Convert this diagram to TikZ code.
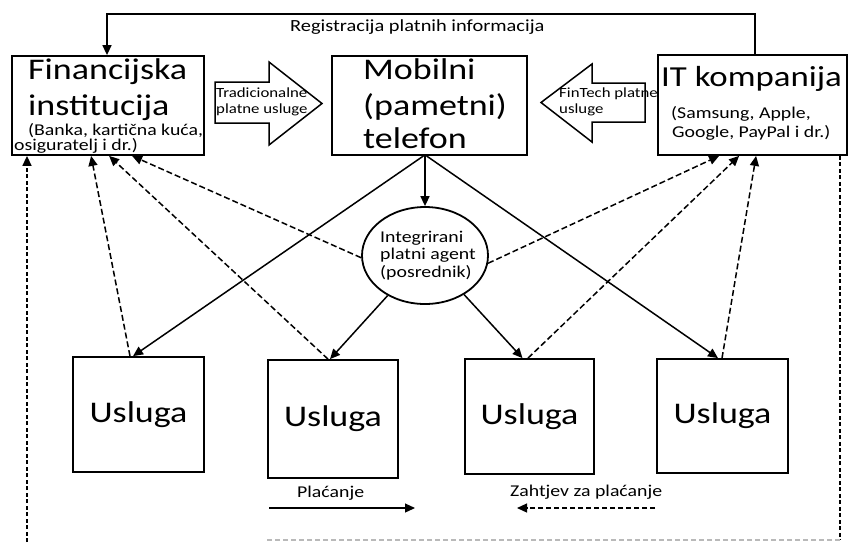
\documentclass[tikz,border=0pt]{standalone}
\usepackage{fontspec}
\setmainfont{Carlito}
\usepackage{graphicx}
\usetikzlibrary{arrows.meta,shapes.geometric}
\newcommand{\stx}[1]{\scalebox{1.2}[1]{#1}}
\begin{document}
\begin{tikzpicture}[x=1pt,y=-1pt,
  box/.style={draw, line width=1.8pt, inner sep=0pt},
  txt/.style={inner sep=0pt, anchor=base west},
  big/.style={font=\fontsize{30}{34}\selectfont},
  bigit/.style={font=\fontsize{29}{34}\selectfont},
  sm/.style={font=\fontsize{16.5}{20}\selectfont},
  tiny/.style={font=\fontsize{14}{16}\selectfont},
  pay/.style={line width=1.5pt, -{Triangle[length=10pt,width=9pt]}},
  req/.style={line width=1.5pt, dash pattern=on 6pt off 3pt, -{Triangle[length=10pt,width=9pt]}},
  longdash/.style={line width=1.6pt, dash pattern=on 4pt off 2.5pt},
  bigarrow/.style={draw, line width=1.5pt, fill=white, line join=miter}]
\useasboundingbox (0,0) rectangle (850,542);

% main boxes
\node[box, minimum width=192pt, minimum height=99pt] (fin) at (108,105.5) {};
\node[box, minimum width=195pt, minimum height=99pt] (mob) at (429.5,105.5) {};
\node[box, minimum width=189pt, minimum height=100pt] (it) at (752.5,105) {};

% service boxes
\node[box, big, minimum width=131pt, minimum height=115pt] (u1) at (138.5,414.5) {\stx{Usluga}};
\node[box, big, minimum width=130pt, minimum height=118pt] (u2) at (333,419) {\stx{Usluga}};
\node[box, big, minimum width=129pt, minimum height=115pt] (u3) at (529.5,416.5) {\stx{Usluga}};
\node[box, big, minimum width=131pt, minimum height=114pt] (u4) at (722.5,416) {\stx{Usluga}};

% agent
\node[draw, ellipse, line width=1.8pt, minimum width=126pt, minimum height=97pt, inner sep=0pt] (circ) at (425,255.5) {};
\node[txt, sm] (c1) at (380,242) {\stx{Integrirani}};
\node[txt, sm] (c2) at (380,259) {\stx{platni agent}};
\node[txt, sm] (c3) at (380,277) {\stx{(posrednik)}};

% texts in boxes
\node[txt, big] (fin1) at (28,79) {\stx{Financijska}};
\node[txt, big] (fin2) at (28,115) {\stx{institucija}};
\node[txt, sm] (fin3) at (28,135) {\stx{(Banka, kartična kuća,}};
\node[txt, sm] (fin4) at (14,150) {\stx{osiguratelj i dr.)}};

\node[txt, big] (mob1) at (363,79) {\stx{Mobilni}};
\node[txt, big] (mob2) at (363,115) {\stx{(pametni)}};
\node[txt, big] (mob3) at (363,148) {\stx{telefon}};

\node[txt, bigit] (it1) at (661,86) {\stx{IT kompanija}};
\node[txt, sm] (it2) at (671,118) {\stx{(Samsung, Apple,}};
\node[txt, sm] (it3) at (672,137) {\stx{Google, PayPal i dr.)}};

% block arrows
\draw[bigarrow] (215,82) -- (269,82) -- (269,62) -- (322,103.5) -- (269,145) -- (269,123) -- (215,123) -- cycle;
\node[txt, tiny] (trad1) at (216,97) {\stx{Tradicionalne}};
\node[txt, tiny] (trad2) at (216,113) {\stx{platne usluge}};
\draw[bigarrow] (645,83) -- (592,83) -- (592,64) -- (541,102.5) -- (592,142) -- (592,122) -- (645,122) -- cycle;
\node[txt, tiny] (ft1) at (559,97) {\stx{FinTech platne}};
\node[txt, tiny] (ft2) at (559,113) {\stx{usluge}};

% top registration line
\coordinate (tr) at (755,14);
\coordinate (tl) at (107,14);
\draw[pay] (it.north -| tr) -- (tr) -- (tl) -- (fin.north -| tl);
\node[txt, font=\fontsize{17}{20}\selectfont] (reg) at (290,31) {\stx{Registracija platnih informacija}};

% outer dashed lines
\coordinate (rb) at (840,540);
\coordinate (bl) at (265,540);
\coordinate (lb) at (27,542);
\draw[longdash] (it.south -| rb) -- (rb);
\draw[gray!55, line width=1.2pt, dash pattern=on 5pt off 3pt] (rb) -- (bl);
\draw[longdash, -{Triangle[length=10pt,width=9pt]}] (lb) -- (fin.south -| lb);

% payments (solid)
\draw[pay] (mob.south -| circ.north) -- (circ.north);
\draw[pay] ([xshift=-6]mob.south) -- ([xshift=-5.5]u1.north);
\draw[pay] ([xshift=-3]mob.south) -- ([xshift=-4.5]u4.north);
\draw[pay] (circ.227) -- ([xshift=-3]u2.north);
\draw[pay] (circ.315) -- ([xshift=-7]u3.north);

% payment requests (dashed)
\draw[req] ([xshift=-8.5]u1.north) -- ([xshift=80]fin.south west);
\draw[req] ([xshift=-5]u2.north) -- ([xshift=98]fin.south west);
\draw[req] (circ.182) -- ([xshift=121]fin.south west);
\draw[req] (circ.353) -- ([xshift=62]it.south west);
\draw[req] ([xshift=-1.5]u3.north) -- ([xshift=82]it.south west);
\draw[req] ([xshift=-0.5]u4.north) -- ([xshift=99]it.south west);

% legend
\node[txt, sm] (lp) at (297,497) {\stx{Plaćanje}};
\coordinate (p1) at (269,508);
\coordinate (p2) at (415,508);
\draw[pay, line width=1.2pt] (p1) -- (p2);
\node[txt, sm] (lz) at (510,496) {\stx{Zahtjev za plaćanje}};
\coordinate (z1) at (655,508);
\coordinate (z2) at (517,508);
\draw[req, line width=1.2pt, dash pattern=on 5pt off 3pt] (z1) -- (z2);
\end{tikzpicture}
\end{document}
